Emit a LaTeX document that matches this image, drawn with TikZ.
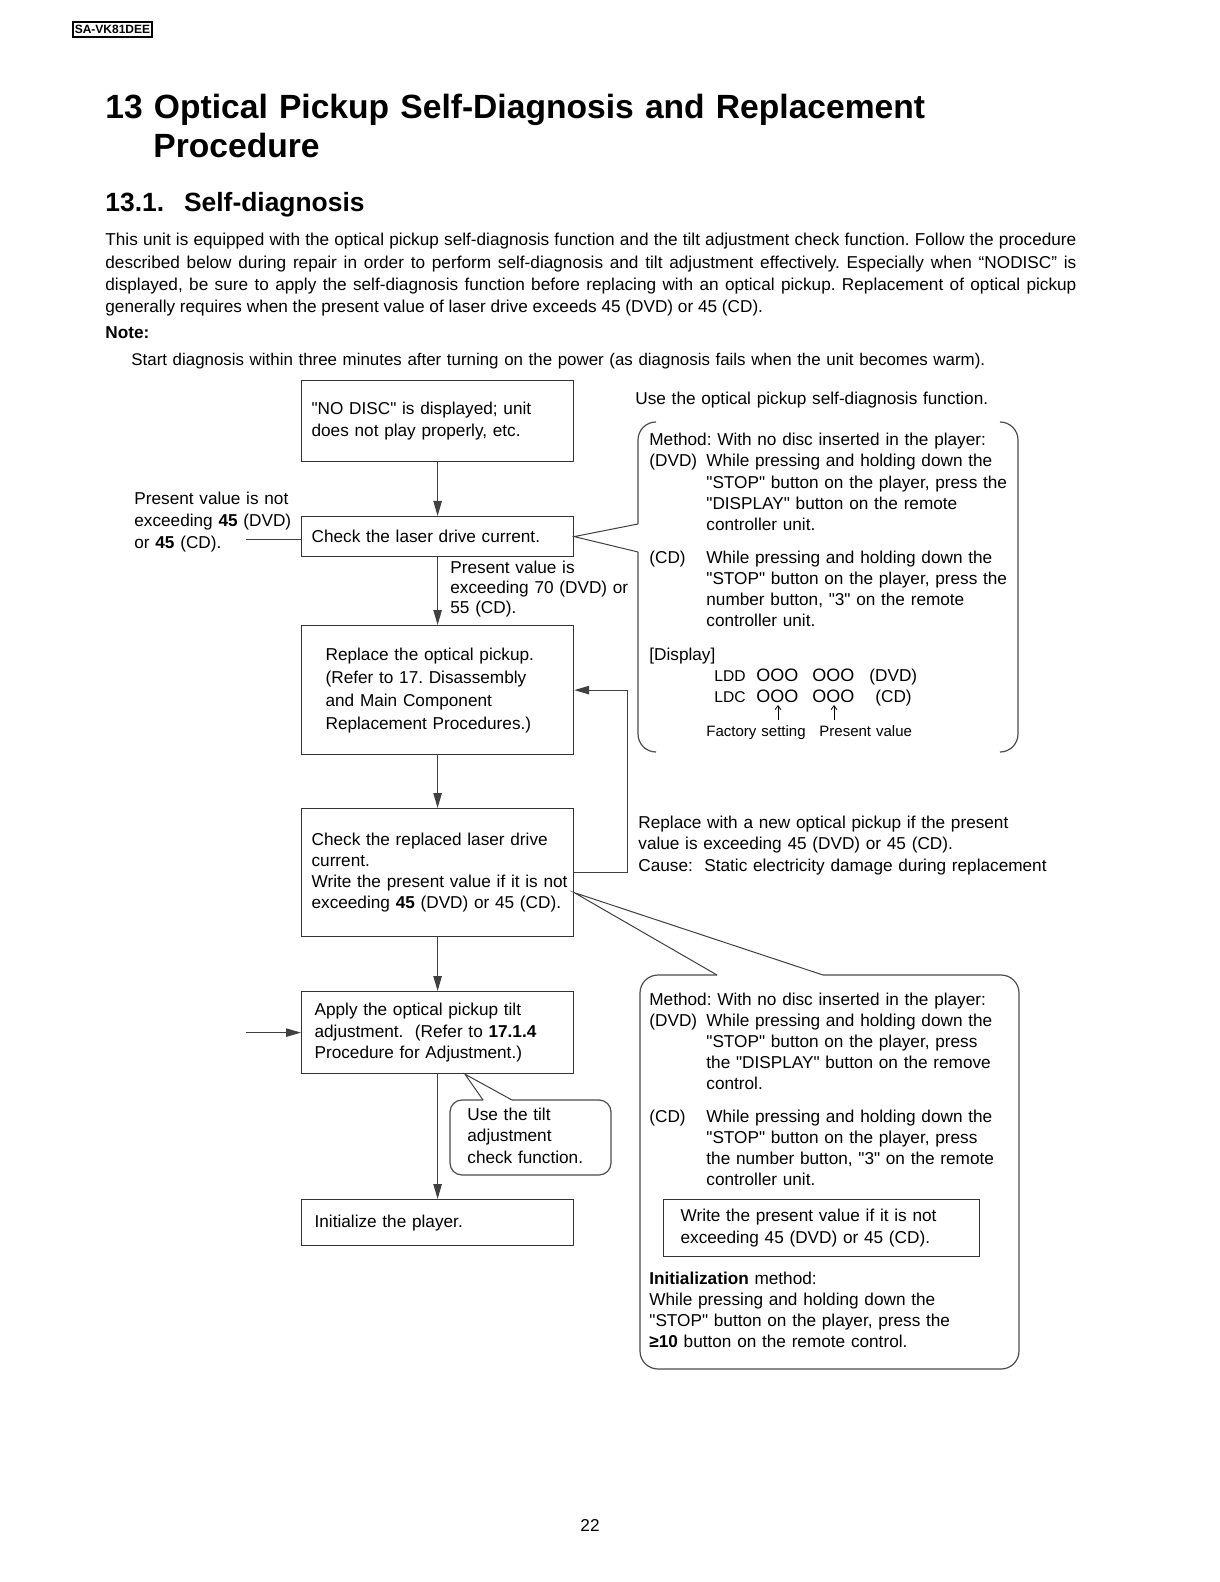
\documentclass[tikz,border=0pt]{standalone}
\usepackage{fontspec}
\setmainfont{Liberation Sans}[Ligatures=TeXOff]
\frenchspacing
\usetikzlibrary{arrows.meta,positioning,calc}
\newcommand\dsize{\fontsize{8.6}{10.6}\selectfont}
\tikzset{
  box/.style={draw=black!80, line width=0.6pt, anchor=north west, align=left,
              font=\dsize, minimum width=136pt, inner xsep=5pt, text width=126pt},
  txt/.style={anchor=base west, align=left, inner sep=0pt, font=\dsize, text width=300pt},
  callout/.style={draw=black!70, line width=0.6pt, rounded corners=9pt},
  pointer/.style={draw=black!75, line width=0.5pt},
  flow/.style={-{Triangle[length=7.5pt,width=4.2pt]}, line width=0.6pt, draw=black!75},
  tickarrow/.style={-{Straight Barb[length=2pt,width=3pt]}, line width=0.4pt},
}

\begin{document}
\begin{tikzpicture}[x=0.5pt, y=-0.5pt]
  \useasboundingbox[fill=white] (0,0) rectangle (1219,1582);
  % page heading
  \node[draw, line width=0.6pt, font=\fontsize{6}{7}\selectfont\bfseries,
        minimum width=39.5pt, minimum height=7.5pt, inner sep=0pt] (model) at (112.5,29.5) {SA-VK81DEE};
  \node[txt, text width=480pt, font=\fontsize{16.8}{19.5}\selectfont\bfseries] (title) at (105,119)
    {13 Optical Pickup Self-Diagnosis and Replacement};
  \node[txt, font=\fontsize{16.8}{19.5}\selectfont\bfseries] (title2) at (153,158) {Procedure};
  \node[txt, font=\fontsize{13.2}{15}\selectfont\bfseries] (sec) at (105,212) {13.1.\hspace{10pt}Self-diagnosis};
  \node[txt, font=\fontsize{8.6}{11.15}\selectfont, text width=485.5pt, align=justify] (intro) at (105,246)
    {This unit is equipped with the optical pickup self-diagnosis function and the tilt adjustment check function. Follow the procedure\linebreak
     described below during repair in order to perform self-diagnosis and tilt adjustment effectively. Especially when “NODISC” is\linebreak
     displayed, be sure to apply the self-diagnosis function before replacing with an optical pickup. Replacement of optical pickup\linebreak
     generally requires when the present value of laser drive exceeds 45 (DVD) or 45 (CD).};
  \node[txt, font=\dsize\bfseries] (note) at (105,339) {Note:};
  \node[txt, text width=470pt, font=\fontsize{8.45}{10}\selectfont] (start) at (131,366)
    {Start diagnosis within three minutes after turning on the power (as diagnosis fails when the unit becomes warm).};

  % main flow
  \node[box, minimum height=40.5pt] (nodisc) at (301,380) {"NO DISC" is displayed; unit\\does not play properly, etc.};
  \node[box, minimum height=20pt] (chk) at (301,516) {Check the laser drive current.};
  \node[box, minimum height=64.5pt, inner xsep=12pt, text width=112pt, font=\fontsize{8.6}{11.5}\selectfont] (repl) at (301,625)
    {Replace the optical pickup.\\(Refer to 17. Disassembly\\and Main Component\\Replacement Procedures.)};
  \node[box, minimum height=64pt, inner xsep=3pt, text width=130pt] (wr) at (301,808)
    {\hspace{2pt}Check the replaced laser drive\\\hspace{2pt}current.\\\hspace{2pt}Write the present value if it is not\\\hspace{2pt}exceeding \textbf{45} (DVD) or 45 (CD).};
  \node[box, minimum height=41pt, inner xsep=6.5pt, text width=123pt] (adj) at (301,991)
    {Apply the optical pickup tilt\\adjustment.\ \ (Refer to \textbf{17.1.4}\\Procedure for Adjustment.)};
  \node[box, minimum height=23pt, inner xsep=6.5pt, text width=123pt] (init) at (301,1199) {Initialize the player.};

  \draw[flow] (nodisc) -- (chk);
  \draw[flow] (chk) -- (repl);
  \draw[flow] (repl) -- (wr);
  \draw[flow] (wr) -- (adj);
  \draw[flow] (adj) -- (init);
  \draw[flow] (wr.east) -- ++(53,0) |- (repl.east);

  \node[txt, font=\fontsize{8.6}{10.75}\selectfont] (notex) at (134,505)
    {Present value is not\\exceeding \textbf{45} (DVD)\\or \textbf{45} (CD).};
  \coordinate (lt) at ($(chk.west)+(-55,3)$);
  \draw[pointer] (lt) -- (lt -| chk.west);
  \node[txt, font=\fontsize{8.6}{9.9}\selectfont] (exc) at (450,574)
    {Present value is\\exceeding 70 (DVD) or\\55 (CD).};
  \coordinate (ain) at ($(adj.west)+(-55,0)$);
  \draw[flow] (ain) -- (adj.west);

  % self-diagnosis callout
  \node[txt] (use1) at (635,405) {Use the optical pickup self-diagnosis function.};
  \draw[callout] (656,422) -- (638,422) -- (638,524);
  \draw[callout] (638,552) -- (638,752) -- (656,752);
  \draw[callout] (1000,422) -- (1018,422) -- (1018,752) -- (1000,752);
  \draw[pointer] (638,524) -- (chk.east) -- (638,552);
  \node[txt] (m1) at (649,446) {Method: With no disc inserted in the player:};
  \node[txt] (dvd1) at (649,467) {(DVD)};
  \node[txt] (dvd1t) at (706,467)
    {While pressing and holding down the\\"STOP" button on the player, press the\\"DISPLAY" button on the remote\\controller unit.};
  \node[txt] (cd1) at (649,563) {(CD)};
  \node[txt] (cd1t) at (706,563)
    {While pressing and holding down the\\"STOP" button on the player, press the\\number button, "3" on the remote\\controller unit.};
  \node[txt] (disp) at (649,660) {[Display]};
  \node[txt, font=\fontsize{7.8}{9}\selectfont] (ldd) at (714,681) {LDD};
  \node[txt, font=\fontsize{9}{11}\selectfont] (lddA) at (756,681) {OOO};
  \node[txt, font=\fontsize{9}{11}\selectfont] (lddB) at (812,681) {OOO};
  \node[txt] (lddC) at (869,681) {(DVD)};
  \node[txt, font=\fontsize{7.8}{9}\selectfont] (ldc) at (714,702) {LDC};
  \node[txt, font=\fontsize{9}{11}\selectfont] (ldcA) at (756,702) {OOO};
  \node[txt, font=\fontsize{9}{11}\selectfont] (ldcB) at (812,702) {OOO};
  \node[txt] (ldcC) at (875,702) {(CD)};
  \node[txt, font=\fontsize{7.5}{9}\selectfont] (fact) at (706,736) {Factory setting};
  \node[txt, font=\fontsize{7.5}{9}\selectfont] (pres) at (819,736) {Present value};
  \draw[tickarrow] ($(ldcA.base west)+(22,18)$) -- ($(ldcA.base west)+(22,3)$);
  \draw[tickarrow] ($(ldcB.base west)+(22,18)$) -- ($(ldcB.base west)+(22,3)$);

  \node[txt, font=\fontsize{8.6}{10.75}\selectfont] (newp) at (638,828)
    {Replace with a new optical pickup if the present\\value is exceeding 45 (DVD) or 45 (CD).\\Cause:\ \ Static electricity damage during replacement};

  % write / initialize callout
  \coordinate (wtip) at ($(wr.east)+(0,20)$);
  \draw[callout] (717,975) -- (640,975) -- (640,1369) -- (1019,1369) -- (1019,975) -- (823,975);
  \draw[pointer] (717,975) -- (wtip) -- (823,975);
  \node[txt] (m2) at (649,1005) {Method: With no disc inserted in the player:};
  \node[txt] (dvd2) at (649,1026) {(DVD)};
  \node[txt] (dvd2t) at (706,1026)
    {While pressing and holding down the\\"STOP" button on the player, press\\the "DISPLAY" button on the remove\\control.};
  \node[txt] (cd2) at (649,1122) {(CD)};
  \node[txt] (cd2t) at (706,1122)
    {While pressing and holding down the\\"STOP" button on the player, press\\the number button, "3" on the remote\\controller unit.};
  \node[box, minimum width=158pt, minimum height=28.5pt, inner xsep=8.5pt, text width=141pt] (wr2) at (663,1199)
    {Write the present value if it is not\\exceeding 45 (DVD) or 45 (CD).};
  \node[txt, font=\fontsize{8.6}{10.5}\selectfont] (ini) at (649,1284)
    {\textbf{Initialization} method:\\While pressing and holding down the\\"STOP" button on the player, press the\\\textbf{≥10} button on the remote control.};

  % tilt callout
  \coordinate (atip) at ($(adj.south west)+(164,0)$);
  \draw[callout, rounded corners=6pt] (483,1100) -- (450,1100) -- (450,1175) -- (611,1175) -- (611,1100) -- (512,1100);
  \draw[pointer] (483,1100) -- (atip) -- (512,1100);
  \node[txt, font=\fontsize{8.6}{10.75}\selectfont] (tilt) at (467,1120) {Use the tilt\\adjustment\\check function.};

  \node[font=\dsize] (pg) at (590,1525) {22};
\end{tikzpicture}
\end{document}
